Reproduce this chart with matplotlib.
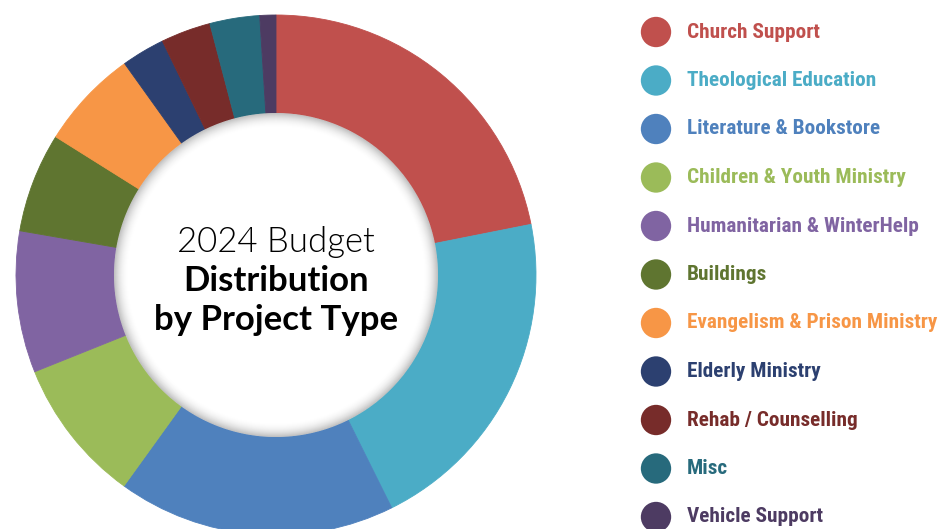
import numpy as np
import matplotlib.pyplot as plt
import matplotlib.font_manager as fm
from matplotlib.patches import Circle

# budget share by project type (percent)
categories = [
    "Church Support", "Theological Education", "Literature & Bookstore",
    "Children & Youth Ministry", "Humanitarian & WinterHelp", "Buildings",
    "Evangelism & Prison Ministry", "Elderly Ministry", "Rehab / Counselling",
    "Misc", "Vehicle Support",
]
shares = [21.9, 20.8, 17.3, 9.0, 8.8, 6.2, 6.2, 2.7, 3.1, 3.1, 1.0]
colors = ["#C0504D", "#4BACC6", "#4F81BD", "#9BBB59", "#8064A2", "#5F7530",
          "#F79646", "#2C4070", "#772C2A", "#276A7C", "#4D3B62"]

W, H = 943, 529
cx, cy = 276, H - 275
r_out, r_in = 260, 162

# legend wants a narrow bold face; take whatever condensed font is around
installed = {(f.name, f.stretch) for f in fm.fontManager.ttflist}
names = {n for n, _ in installed}
leg_font = dict(family=["DejaVu Sans"], fontsize=13)
for cand in ["Roboto Condensed", "Liberation Sans Narrow", "Open Sans Condensed"]:
    if cand in names:
        leg_font = dict(family=[cand, "DejaVu Sans"], fontsize=15.3)
        break
else:
    if ("DejaVu Sans", "condensed") in installed:
        leg_font = dict(family=["DejaVu Sans"], fontstretch="condensed", fontsize=14)
    elif "Roboto" in names:
        leg_font = dict(family=["Roboto", "DejaVu Sans"], fontsize=13.5)

fig = plt.figure(figsize=(W / 100, H / 100), dpi=100)
ax = fig.add_axes([0, 0, 1, 1])

wedges, _ = ax.pie(shares, colors=colors, startangle=90, counterclock=False,
                   center=(cx, cy), radius=r_out,
                   wedgeprops=dict(width=r_out - r_in, linewidth=0.6))
for w in wedges:
    w.set_edgecolor(w.get_facecolor())

# inner hole with a soft inset shadow
steps = np.linspace(0, 1, 15)
for t in steps:
    g = 1 - 0.24 * (1 - t) ** 2
    ax.add_patch(Circle((cx, cy), r_in - 14 * t, facecolor=(g, g, g),
                        edgecolor="none", zorder=3))

ax.text(cx, cy + 23, "2024 Budget", family="Lato", fontweight=300, fontsize=25,
        ha="center", va="baseline", color="black", zorder=5)
ax.text(cx, cy - 16, "Distribution", family="Lato", fontweight="bold", fontsize=25,
        ha="center", va="baseline", color="black", zorder=5)
ax.text(cx, cy - 55, "by Project Type", family="Lato", fontweight="bold", fontsize=25,
        ha="center", va="baseline", color="black", zorder=5)

# legend on the right
for i, (lab, col) in enumerate(zip(categories, colors)):
    y = H - (32 + 48.5 * i)
    ax.scatter([656], [y], s=30.3 ** 2 * 0.52, color=col, edgecolors="none",
               zorder=5, clip_on=False)
    ax.text(687, y, lab, color=col, fontweight="bold", ha="left", va="center",
            zorder=5, **leg_font)

ax.set_xlim(0, W)
ax.set_ylim(0, H)
ax.set_aspect("auto")
ax.axis("off")

fig.savefig("out.png", dpi=100, facecolor="white")
